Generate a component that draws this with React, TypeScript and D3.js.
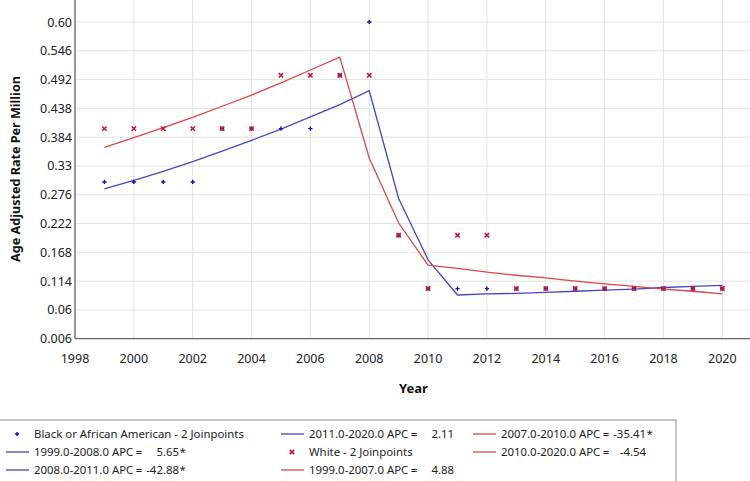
import React from 'react';
import * as d3 from 'd3';

const years = d3.range(1999, 2021);

// observed age adjusted rates (per million)
const blackRates = [0.3, 0.3, 0.3, 0.3, 0.4, 0.4, 0.4, 0.4, 0.5, 0.6, 0.2, 0.1, 0.1, 0.1, 0.1, 0.1, 0.1, 0.1, 0.1, 0.1, 0.1, 0.1];
const whiteRates = [0.4, 0.4, 0.4, 0.4, 0.4, 0.4, 0.5, 0.5, 0.5, 0.5, 0.2, 0.1, 0.2, 0.2, 0.1, 0.1, 0.1, 0.1, 0.1, 0.1, 0.1, 0.1];

// joinpoint model fits
const blackFit = [0.287, 0.303, 0.32, 0.338, 0.358, 0.378, 0.399, 0.422, 0.445, 0.471, 0.269, 0.154, 0.088, 0.09, 0.091, 0.093, 0.095, 0.097, 0.099, 0.102, 0.104, 0.106];
const whiteFit = [0.365, 0.383, 0.402, 0.421, 0.442, 0.463, 0.486, 0.51, 0.534, 0.345, 0.223, 0.144, 0.138, 0.131, 0.125, 0.12, 0.114, 0.109, 0.104, 0.099, 0.095, 0.09];

const xTicks = d3.range(1998, 2021, 2);
const yTicks = [0.006, 0.06, 0.114, 0.168, 0.222, 0.276, 0.33, 0.384, 0.438, 0.492, 0.546, 0.6];
const yTickLabels = ['0.006', '0.06', '0.114', '0.168', '0.222', '0.276', '0.33', '0.384', '0.438', '0.492', '0.546', '0.60'];

// legend entries, column by column; segments carry an APC value
const legendCols = [
  [
    { kind: 'blueDot', label: 'Black or African American - 2 Joinpoints' },
    { kind: 'blueLine', label: '1999.0-2008.0 APC', apc: '5.65', sig: true },
    { kind: 'blueLine', label: '2008.0-2011.0 APC', apc: '-42.88', sig: true },
  ],
  [
    { kind: 'blueLine', label: '2011.0-2020.0 APC', apc: '2.11', sig: false },
    { kind: 'redX', label: 'White - 2 Joinpoints' },
    { kind: 'redLine', label: '1999.0-2007.0 APC', apc: '4.88', sig: false },
  ],
  [
    { kind: 'redLine', label: '2007.0-2010.0 APC', apc: '-35.41', sig: true },
    { kind: 'redLine', label: '2010.0-2020.0 APC', apc: '-4.54', sig: false },
  ],
];

const BLUE_PT = '#1414b4';
const RED_PT = '#c8143c';
const BLUE_LN = '#4646c3';
const RED_LN = '#dc4646';
const FONT = "'Noto Sans', 'Open Sans', sans-serif";

const W = 750;
const H = 481;
const left = 75;
const bottom = 338.7;

const App = () => {
  const x = d3.scaleLinear().domain([1998, 2020]).range([left, 722.3]);
  const y = d3.scaleLinear().domain([0.006, 0.6]).range([bottom, 22]);

  const line = d3.line<number>()
    .x((_, i) => x(years[i]))
    .y(d => y(d));

  const cross = d3.symbol().type(d3.symbolCross).size(10)();
  const xMark = d3.symbol().type(d3.symbolX).size(14)();

  const colX = [6, 281, 473];
  const rowY = [433, 451, 469];

  const legendMark = (kind: string, x0: number, cy: number) => {
    if (kind === 'blueDot') return <path d={cross} transform={`translate(${x0 + 11},${cy - 3})`} fill={BLUE_PT} />;
    if (kind === 'redX') return <path d={xMark} transform={`translate(${x0 + 11},${cy - 3})`} fill="none" stroke={RED_PT} strokeWidth={1.6} />;
    return <line x1={x0} x2={x0 + 23} y1={cy - 3} y2={cy - 3} stroke={kind === 'blueLine' ? BLUE_LN : RED_LN} strokeWidth={1.3} />;
  };

  return (
    <svg width={W} height={H} style={{ position: 'absolute', left: 0, top: 0, background: '#fff', fontFamily: FONT }}>
      {/* grid */}
      {xTicks.map(t => (
        <line key={`gx${t}`} x1={x(t)} x2={x(t)} y1={0} y2={bottom} stroke="#e2e2e2" strokeWidth={1} />
      ))}
      {yTicks.map(t => (
        <line key={`gy${t}`} x1={left} x2={W} y1={y(t)} y2={y(t)} stroke="#e2e2e2" strokeWidth={1} />
      ))}

      {/* axes */}
      <line x1={left} x2={left} y1={0} y2={bottom} stroke="#6a6a6a" strokeWidth={1.3} />
      <line x1={left} x2={W} y1={bottom} y2={bottom} stroke="#6a6a6a" strokeWidth={1.3} />

      {yTicks.map((t, i) => (
        <text key={`ty${t}`} x={72} y={y(t) + 4.5} textAnchor="end" fontSize={12.5} fill="#222">{yTickLabels[i]}</text>
      ))}
      {xTicks.map(t => (
        <text key={`tx${t}`} x={x(t)} y={363} textAnchor="middle" fontSize={12.5} fill="#222">{t}</text>
      ))}

      <text x={413.5} y={393} textAnchor="middle" fontSize={13} fontWeight="bold" fill="#111">Year</text>
      <text transform={`translate(20,169) rotate(-90)`} textAnchor="middle" fontSize={12.6} fontWeight="bold" fill="#111">
        Age Adjusted Rate Per Million
      </text>

      {/* fitted trends */}
      <path d={line(blackFit) ?? ''} fill="none" stroke={BLUE_LN} strokeWidth={1.3} />
      <path d={line(whiteFit) ?? ''} fill="none" stroke={RED_LN} strokeWidth={1.3} />

      {/* observed rates */}
      {blackRates.map((v, i) => (
        <path key={`b${i}`} d={cross} transform={`translate(${x(years[i])},${y(v)})`} fill={BLUE_PT} />
      ))}
      {whiteRates.map((v, i) => (
        <path key={`w${i}`} d={xMark} transform={`translate(${x(years[i])},${y(v)})`} fill="none" stroke={RED_PT} strokeWidth={1.6} />
      ))}

      {/* legend */}
      <rect x={-1} y={420} width={677} height={70} fill="#fff" stroke="#8a8a8a" strokeWidth={1} />
      {legendCols.map((col, ci) =>
        col.map((item: any, ri) => {
          const tx = colX[ci] + 28;
          const ty = rowY[ri] + 4.5;
          return (
            <g key={`lg${ci}-${ri}`} fontSize={11.4} fill="#222">
              {legendMark(item.kind, colX[ci], rowY[ri] + 4)}
              <text x={tx} y={ty}>{item.label}</text>
              {item.apc !== undefined && (
                <>
                  <text x={tx + 105} y={ty} textAnchor="middle">=</text>
                  <text x={tx + 145} y={ty} textAnchor="end">{item.apc}</text>
                  {item.sig && <text x={tx + 145.5} y={ty}>*</text>}
                </>
              )}
            </g>
          );
        })
      )}
    </svg>
  );
};

export default App;
